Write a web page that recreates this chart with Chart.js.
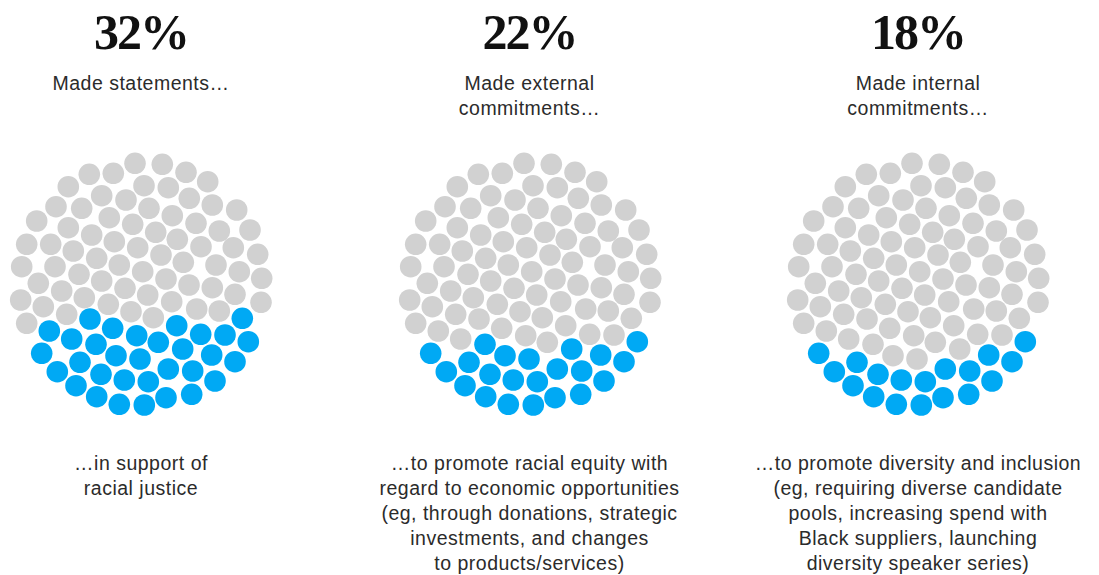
<!DOCTYPE html>
<html>
<head>
<meta charset="utf-8">
<script src="https://cdn.jsdelivr.net/npm/chart.js@4"></script>
<style>
    body { margin: 0; background: #fff; width: 1099px; height: 575px; overflow: hidden; position: relative; }
    .panel { position: absolute; top: 0; width: 388px; height: 575px; }
    .pct { position: absolute; left: 0; right: 0; top: 6px; text-align: center;
           font-family: "Liberation Serif", "DejaVu Serif", serif; font-weight: bold;
           font-size: 50px; line-height: 52px; color: #111; letter-spacing: -2px; }
    .lead { position: absolute; left: 0; right: 0; top: 71px; text-align: center;
            font-family: "Liberation Sans", Arial, sans-serif; font-size: 19.5px; letter-spacing: 0.5px;
            line-height: 25px; color: #2b2b2b; }
    .desc { position: absolute; left: 0; right: 0; top: 451px; text-align: center;
            font-family: "Liberation Sans", Arial, sans-serif; font-size: 19.5px; letter-spacing: 0.5px;
            line-height: 25px; color: #2b2b2b; }
    canvas { position: absolute; top: 144px; }
</style>
</head>
<body>
<div id="root"></div>
<script>
document.addEventListener("DOMContentLoaded", () => {

    // ---------------- Data ----------------
    const percents = [32, 22, 18];
    const leads = ["Made statements…", "Made external<br>commitments…", "Made internal<br>commitments…"];
    const descs = [
        "…in support of<br>racial justice",
        "…to promote racial equity with<br>regard to economic opportunities<br>(eg, through donations, strategic<br>investments, and changes<br>to products/services)",
        "…to promote diversity and inclusion<br>(eg, requiring diverse candidate<br>pools, increasing spend with<br>Black suppliers, launching<br>diversity speaker series)"
    ];

    // dot layout (100 dots), listed in fill order: first N dots are blue for N%
    const dotX = [
        -99.3, -83.7, -65, -61, -44.3, -40, -16.7, -21.7, 7.3, 3.3, 27.3, 25, 51.7, 50.7, 70.7, 74, 94, 107.3,
        -45, -25, -1, 41.7,
        -51, 101.3, -91.7, -28.3, 35.7, -4.3, -69.3, 59.7, 84, 17.3,
        -6, 21.3, -51.7, -27.7, 45, 66.7, -72.7, 3, 27.3, -39.3, -15, 48.3, -85, -59.3, 8, 71.3, 95.7,
        -31.7, 31.3, -104.3, -8.3, 55, -72.7, 14.7, 78.3, 109, -49.3, -114.3, -90.3, -26.7, 36.3, -3.3,
        60, 92.3, -67.7, 116.7, 20, -44.3, -119.3, -86, -21.7, 42.3, 75, 1.7, 98.3, -62, -102.7, 120.7,
        -39.3, 25, 48, 71.3, -16, -79.3, 6.7, 94, -120.3, -56.7, 30.7, 120, -97.7, -32.7, 55.7, -10,
        78.3, -74.3, 12.3, -114.3
    ];
    const dotY = [
        69.3, 87.7, 101.7, 78.3, 112.7, 90.3, 96, 120.3, 97.7, 121, 85, 113.7, 87, 110.3, 71, 97, 77.7, 57.7,
        60.3, 71.7, 75, 65,
        35, 34.3, 47, 44.3, 41.7, 51.7, 55, 50.3, 51, 58.3,
        -120.7, -119.7, -109.7, -110.7, -111.7, -102.3, -97.3, -98.3, -96.3, -88.3, -84, -85.7, -77.3, -75.7, -75.7, -79, -74,
        -66.3, -68.3, -63, -59.7, -60.7, -56.3, -51.7, -53, -54, -49, -39.7, -39.7, -42.3, -44.7, -36.3,
        -37.3, -36.3, -33, -29.7, -29, -25.7, -17.3, -17.3, -19, -21.7, -19, -12.3, -12.3, -9.7, -0.7, -5.7,
        -3, -5, 1, 3.7, 4.3, 7, 11, 10.3, 16, 13.7, 17.7, 18.3, 22.7, 20.3, 25, 27.7,
        27, 30.3, 33.7, 39.3
    ];

    const panelCenters = [141, 529.5, 918];
    const blue = "#00a9f4";
    const grey = "#d1d1d1";

    const root = document.getElementById("root");

    percents.forEach((pct, i) => {

        const panel = document.createElement("div");
        panel.className = "panel";
        panel.style.left = (panelCenters[i] - 194) + "px";
        panel.innerHTML = `
            <div class="pct">${pct}%</div>
            <div class="lead">${leads[i]}</div>
            <div class="desc">${descs[i]}</div>
        `;
        root.appendChild(panel);

        const canvas = document.createElement("canvas");
        canvas.width = 280;
        canvas.height = 280;
        canvas.style.left = (panelCenters[i] - 140) + "px";
        document.body.appendChild(canvas);

        const points = dotX.map((x, k) => ({ x: x, y: dotY[k] }));
        const colors = dotX.map((x, k) => (k < pct ? blue : grey));

        new Chart(canvas.getContext("2d"), {
            type: "scatter",
            data: {
                datasets: [{
                    data: points,
                    backgroundColor: colors,
                    borderWidth: 0,
                    pointRadius: 10.8,
                    pointHoverRadius: 10.8,
                    clip: false
                }]
            },
            options: {
                responsive: false,
                animation: false,
                layout: { padding: 0, autoPadding: false },
                scales: {
                    x: { type: "linear", min: -140, max: 140, display: false },
                    y: { min: -140, max: 140, reverse: true, display: false }
                },
                plugins: {
                    legend: { display: false },
                    tooltip: { enabled: false }
                }
            }
        });

    });

});
</script>
</body>
</html>
